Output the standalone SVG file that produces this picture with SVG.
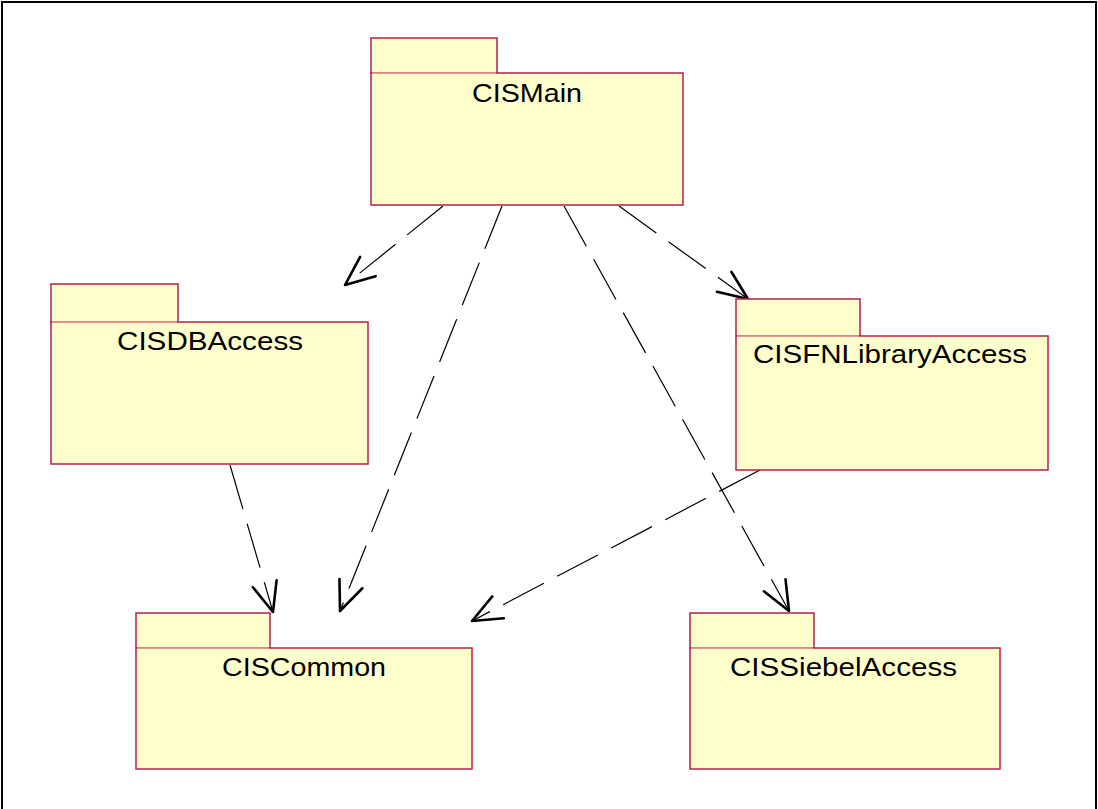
<svg xmlns="http://www.w3.org/2000/svg" width="1098" height="809" viewBox="0 0 1098 809">
<style>
.tab{fill:#FFFFCC;stroke:#B3204F;stroke-width:1.5}
.body{fill:#FFFFCC;stroke:#B3204F;stroke-width:1.5}
.div{stroke:#F6E0B8;stroke-width:1.2}
.lbl{font-family:"Liberation Sans",Arial,sans-serif;font-size:25px;fill:#000;text-anchor:middle}
.dep{fill:none;stroke:#000;stroke-width:1.2;stroke-dasharray:46 15;marker-end:url(#open)}
</style>
<defs>
<marker id="open" markerUnits="userSpaceOnUse" markerWidth="40" markerHeight="40" viewBox="-30 -15 34 30" refX="0" refY="0" orient="auto">
<path d="M -25,-10.5 L 0,0 L -25,10.5" fill="none" stroke="#000" stroke-width="2.2" stroke-linejoin="round" stroke-linecap="round"/>
</marker>
</defs>
<rect x="2" y="2" width="1094" height="830" fill="#FFFFFF" stroke="#000" stroke-width="2"/>
<g id="connectors">
<line class="dep" x1="443" y1="206" x2="345" y2="285"/>
<line class="dep" x1="502" y1="206" x2="340" y2="611"/>
<line class="dep" x1="564" y1="206" x2="789" y2="611"/>
<line class="dep" x1="619" y1="206" x2="748" y2="299"/>
<line class="dep" x1="230" y1="465" x2="273" y2="612"/>
<line class="dep" x1="760" y1="470" x2="472" y2="621"/>
</g>
<g id="CISMain">
<rect class="tab" x="371" y="38" width="126" height="35"/>
<rect class="body" x="371" y="73" width="312" height="132"/>
<line class="div" x1="372" y1="73" x2="496" y2="73"/>
<text class="lbl" x="527" y="102" textLength="110" lengthAdjust="spacingAndGlyphs">CISMain</text>
</g>
<g id="CISDBAccess">
<rect class="tab" x="51" y="284" width="127" height="38"/>
<rect class="body" x="51" y="322" width="317" height="142"/>
<line class="div" x1="52" y1="322" x2="177" y2="322"/>
<text class="lbl" x="210" y="350" textLength="186" lengthAdjust="spacingAndGlyphs">CISDBAccess</text>
</g>
<g id="CISFNLibraryAccess">
<rect class="tab" x="736" y="299" width="124" height="37"/>
<rect class="body" x="736" y="336" width="312" height="134"/>
<line class="div" x1="737" y1="336" x2="859" y2="336"/>
<text class="lbl" x="890" y="363" textLength="274" lengthAdjust="spacingAndGlyphs">CISFNLibraryAccess</text>
</g>
<g id="CISCommon">
<rect class="tab" x="136" y="613" width="134" height="35"/>
<rect class="body" x="136" y="648" width="336" height="121"/>
<line class="div" x1="137" y1="648" x2="269" y2="648"/>
<text class="lbl" x="304" y="676" textLength="164" lengthAdjust="spacingAndGlyphs">CISCommon</text>
</g>
<g id="CISSiebelAccess">
<rect class="tab" x="690" y="613" width="124" height="35"/>
<rect class="body" x="690" y="648" width="310" height="121"/>
<line class="div" x1="691" y1="648" x2="813" y2="648"/>
<text class="lbl" x="843.5" y="676" textLength="227" lengthAdjust="spacingAndGlyphs">CISSiebelAccess</text>
</g>
</svg>
